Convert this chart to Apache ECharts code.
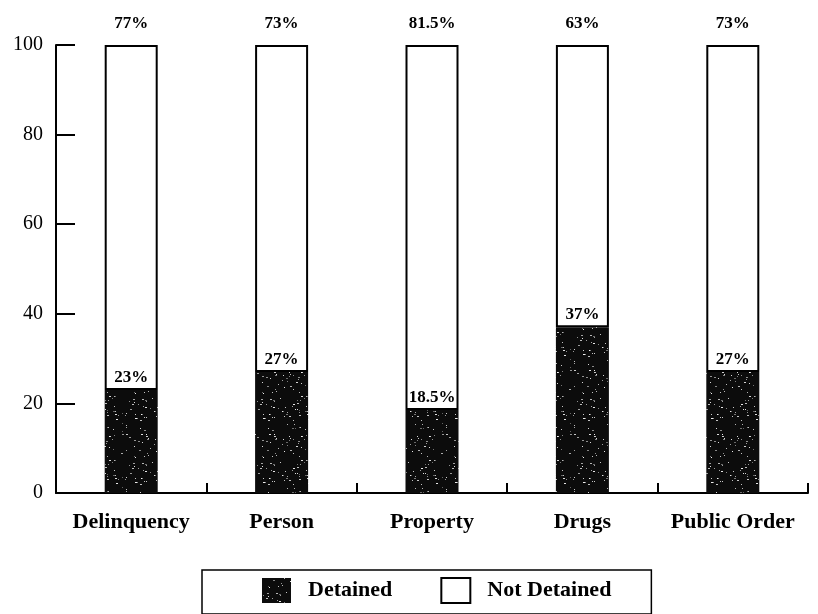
<!DOCTYPE html>
<html>
<head>
<meta charset="utf-8">
<script src="https://cdn.jsdelivr.net/npm/echarts@6/dist/echarts.min.js"></script>
<style>html,body{margin:0;padding:0;background:#fff;}#chart{width:818px;height:614px;}</style>
</head>
<body>
<div id="chart"></div>
<script>
const categories = ['Delinquency', 'Person', 'Property', 'Drugs', 'Public Order'];
const detained = [23, 27, 18.5, 37, 27];
const notDetained = [77, 73, 81.5, 63, 73];
const yTicks = [0, 20, 40, 60, 80, 100];

// speckled dark texture (deterministic)
function makePattern() {
  const c = document.createElement('canvas');
  c.width = 64; c.height = 64;
  const g = c.getContext('2d');
  g.fillStyle = '#0c0c0c';
  g.fillRect(0, 0, 64, 64);
  let s = 12345;
  function next() { s = (s * 1103515245 + 12345) % 2147483648; return s / 2147483648; }
  for (let i = 0; i < 110; i++) {
    const x = Math.floor(next() * 64), y = Math.floor(next() * 64);
    const a = 0.35 + next() * 0.6;
    g.fillStyle = 'rgba(255,255,255,' + a.toFixed(2) + ')';
    g.fillRect(x, y, next() > 0.7 ? 2 : 1, 1);
  }
  return c;
}
const pattern = { image: makePattern(), repeat: 'repeat' };

const chart = echarts.init(document.getElementById('chart'), null, { renderer: 'canvas' });
const serif = '"Liberation Serif", "DejaVu Serif", serif';
chart.setOption({
  animation: false,
  backgroundColor: '#fff',
  grid: { left: 56, right: 10, top: 45, bottom: 121, containLabel: false },
  legend: {
    left: 202, top: 570,
    data: ['Detained', 'Not Detained'],
    itemWidth: 29, itemHeight: 25, itemGap: 48,
    padding: [7, 40, 10, 60],
    borderColor: '#000', borderWidth: 1.5,
    icon: 'rect',
    textStyle: { fontFamily: serif, fontSize: 22, fontWeight: 'bold', color: '#000', padding: [0, 0, 0, 12] }
  },
  xAxis: {
    type: 'category',
    data: categories,
    axisLine: { lineStyle: { color: '#000', width: 2 } },
    axisTick: { show: true, inside: true, length: 10, interval: 0, lineStyle: { color: '#000', width: 2 } },
    axisLabel: { interval: 0, hideOverlap: false, fontFamily: serif, fontSize: 22, fontWeight: 'bold', color: '#000', margin: 18 },
    splitLine: { show: false }
  },
  yAxis: {
    type: 'value', min: 0, max: 100, interval: 20,
    axisLine: { show: true, lineStyle: { color: '#000', width: 2 } },
    axisTick: { show: true, inside: true, length: 19, lineStyle: { color: '#000', width: 2 } },
    axisLabel: { fontFamily: serif, fontSize: 20, color: '#000', margin: 13,
      customValues: yTicks },
    splitLine: { show: false }
  },
  series: [
    {
      name: 'Detained', type: 'bar', stack: 'a', barWidth: 53,
      data: detained,
      itemStyle: { color: pattern },
      label: { show: true, position: 'top', distance: 4, formatter: p => p.value + '%',
        fontFamily: serif, fontSize: 17, fontWeight: 'bold', color: '#000' },
      z: 3
    },
    {
      name: 'Not Detained', type: 'bar', stack: 'a', barWidth: 53,
      data: notDetained,
      itemStyle: { color: '#fff', borderColor: '#000', borderWidth: 2 },
      label: { show: true, position: 'top', distance: 13, formatter: p => p.value + '%',
        fontFamily: serif, fontSize: 17, fontWeight: 'bold', color: '#000' },
      z: 2
    }
  ]
});
</script>
</body>
</html>
